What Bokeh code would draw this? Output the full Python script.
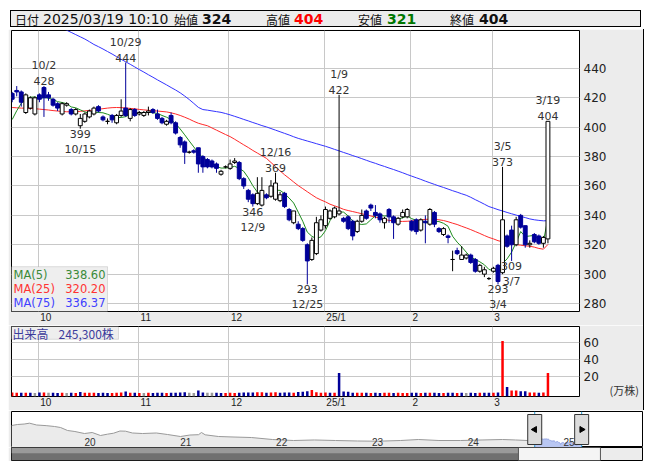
import math
from bokeh.plotting import figure
from bokeh.layouts import column
from bokeh.models import Range1d, FixedTicker, BoxAnnotation, Div, ColumnDataSource, LinearAxis
from bokeh.embed import file_html
from bokeh.resources import INLINE
from bokeh.core.properties import value

# ---------------- data ----------------
last_time = "2025/03/19 10:10"

opens = [423, 425, 424, 410, 413, 409, 422, 427, 422, 419,
         416, 409, 415, 412, 409, 401, 404, 407, 409, 414,
         407, 404, 408, 403, 408, 413, 406, 412, 409, 408,
         410, 412, 409, 406, 402, 408, 403, 393, 390, 383,
         384, 386, 380, 378, 377, 375, 368, 373, 372, 376,
         376, 365, 357, 354, 348, 347, 354, 353, 351, 350,
         355, 344, 335, 334, 331, 320, 310, 314, 330, 333,
         338, 339, 341, 338, 339, 336, 329, 336, 343, 347,
         342, 341, 335, 344, 339, 334, 339, 339, 336, 337,
         330, 336, 334, 342, 331, 327, 326, 310, 316, 310,
         311, 313, 310, 302, 300, 297, 302, 306, 301, 326,
         330, 320, 340, 333, 320, 327, 326, 321, 324]
highs = [424, 428, 425, 423, 421, 421, 423, 428, 424, 420,
         417, 417, 417, 413, 413, 409, 410, 412, 414, 415,
         408, 406, 409, 409, 419, 444, 413, 413, 411, 411,
         414, 413, 412, 407, 405, 410, 404, 394, 391, 384,
         385, 386, 381, 379, 378, 376, 371, 374, 378, 379,
         377, 366, 358, 355, 366, 366, 355, 364, 369, 356,
         356, 345, 343, 336, 332, 321, 325, 339, 340, 346,
         344, 346, 422, 339, 340, 337, 337, 344, 344, 348,
         347, 342, 339, 345, 340, 339, 344, 345, 337, 338,
         338, 340, 345, 343, 332, 332, 327, 316, 318, 319,
         314, 314, 311, 307, 305, 298, 305, 307, 373, 327,
         333, 339, 341, 333, 323, 328, 327, 326, 404]
lows = [417, 421, 414, 409, 412, 408, 417, 407, 418, 414,
        411, 408, 414, 408, 408, 399, 403, 406, 408, 410,
        404, 402, 403, 402, 407, 407, 404, 407, 408, 407,
        408, 409, 405, 402, 401, 402, 395, 386, 375, 382,
        382, 369, 369, 372, 372, 369, 367, 372, 371, 375,
        364, 358, 349, 346, 347, 346, 351, 352, 350, 349,
        345, 336, 334, 330, 322, 293, 309, 313, 329, 331,
        337, 338, 340, 335, 330, 323, 328, 335, 337, 343,
        338, 335, 331, 335, 324, 333, 338, 338, 329, 327,
        329, 321, 333, 332, 328, 326, 321, 302, 313, 310,
        310, 307, 301, 301, 298, 296, 301, 293, 300, 318,
        309, 319, 331, 318, 318, 321, 320, 318, 321]
closes = [419, 424, 417, 422, 420, 420, 419, 420, 420, 415,
          413, 416, 416, 409, 412, 406, 409, 411, 413, 411,
          405, 404, 405, 408, 411, 408, 412, 408, 410, 410,
          411, 410, 406, 403, 404, 403, 396, 388, 383, 383,
          383, 375, 373, 373, 373, 372, 370, 373, 375, 377,
          365, 360, 351, 348, 355, 357, 352, 360, 362, 354,
          346, 337, 343, 331, 323, 309, 323, 335, 337, 344,
          343, 345, 343, 336, 331, 326, 336, 340, 338, 345,
          340, 337, 338, 339, 335, 338, 342, 344, 330, 329,
          337, 335, 344, 334, 329, 331, 325, 310, 314, 313,
          313, 308, 302, 306, 303, 297, 304, 295, 337, 319,
          320, 337, 332, 320, 321, 322, 321, 325, 404]
prior_closes = [394, 392, 405, 416]

# volume in 10,000 shares (万株)
volumes = [1.6, 1.2, 1.4, 1.3, 1.2, 1.1, 1.5, 1.7, 1.2, 1.3,
           1.1, 1.2, 1.0, 1.2, 1.1, 2.3, 1.4, 1.2, 1.3, 1.1,
           1.2, 1.0, 1.1, 1.2, 1.6, 2.8, 1.4, 1.2, 1.1, 1.0,
           1.2, 1.1, 1.3, 1.2, 1.1, 1.3, 1.4, 1.6, 1.8, 1.2,
           1.1, 3.8, 1.6, 1.3, 1.2, 1.2, 1.1, 1.0, 1.2, 1.1,
           1.4, 1.5, 1.6, 1.7, 2.0, 1.8, 1.2, 1.5, 1.9, 1.3,
           1.6, 1.5, 1.4, 2.2, 2.6, 3.2, 4.6, 1.9, 1.3, 1.5,
           1.2, 1.3, 24.5, 2.8, 2.6, 1.4, 1.3, 1.2, 1.3, 1.1,
           1.2, 1.1, 1.3, 1.2, 1.1, 1.2, 1.0, 1.1, 1.2, 1.3,
           1.1, 1.2, 1.3, 1.2, 1.1, 1.0, 1.2, 1.3, 1.1, 1.2,
           1.0, 1.2, 1.1, 1.3, 1.4, 1.2, 1.3, 1.6, 62.0, 8.1,
           3.9, 3.8, 3.0, 3.0, 1.6, 1.5, 1.4, 1.5, 24.53]

ma25 = [413.4, 413.2, 413.0, 412.9, 412.8, 412.6, 412.3, 412.0, 411.7, 411.3,
        411.0, 410.7, 410.5, 410.5, 410.6, 410.8, 411.1, 411.4, 411.8, 412.2,
        412.6, 413.0, 413.3, 413.4, 413.3, 413.1, 412.8, 412.5, 412.1, 411.8,
        411.5, 411.2, 411.0, 410.7, 410.4, 409.8, 409.0, 408.0, 406.8, 405.5,
        404.0, 402.7, 401.8, 401.0, 399.5, 398.0, 396.5, 395.0, 393.6, 391.8,
        389.9, 388.0, 386.2, 384.2, 382.4, 380.6, 378.8, 376.0, 373.2, 370.3,
        367.6, 365.2, 362.7, 360.3, 358.2, 356.1, 354.0, 352.0, 350.5, 349.2,
        347.6, 346.5, 345.4, 344.1, 343.3, 342.6, 341.9, 341.1, 340.4, 339.6,
        338.9, 338.1, 337.3, 336.6, 336.2, 335.9, 335.9, 336.0, 336.2, 336.5,
        336.9, 337.3, 337.4, 337.3, 337.0, 336.5, 335.7, 334.7, 333.8, 332.6,
        331.5, 330.3, 329.0, 327.7, 326.3, 325.0, 324.0, 322.8, 322.0, 321.4,
        320.8, 320.1, 319.7, 319.3, 319.0, 318.4, 317.5, 317.0, 320.2]
ma75 = [486.0, 484.0, 482.0, 480.0, 478.0, 476.5, 475.0, 473.5, 472.0, 470.5,
        469.0, 467.5, 466.0, 464.5, 463.0, 461.5, 460.0, 458.2, 456.3, 454.8,
        453.2, 451.5, 449.8, 448.0, 446.2, 444.5, 442.8, 441.0, 439.2, 437.5,
        435.7, 434.0, 432.2, 430.5, 428.8, 427.0, 425.3, 423.4, 421.2, 418.8,
        416.2, 413.5, 412.0, 411.6, 411.1, 410.6, 410.1, 409.3, 408.4, 407.4,
        406.4, 405.3, 404.3, 403.2, 402.2, 401.1, 400.2, 399.1, 398.0, 396.9,
        395.8, 394.7, 393.5, 392.4, 391.5, 390.6, 389.7, 388.8, 387.9, 387.0,
        386.0, 384.9, 383.9, 382.8, 381.8, 380.7, 379.7, 378.6, 377.5, 376.4,
        375.4, 374.3, 373.3, 372.2, 371.2, 370.1, 369.0, 367.8, 366.7, 365.6,
        364.5, 363.3, 362.2, 361.1, 360.0, 359.0, 357.9, 356.8, 355.8, 354.7,
        353.7, 352.3, 350.7, 349.2, 347.6, 346.0, 345.0, 343.9, 343.0, 342.0,
        341.1, 340.2, 339.3, 338.5, 337.6, 337.0, 336.6, 336.3, 336.37]

month_start_idx = [6, 28, 48, 69, 88, 106]
month_labels = ["10", "11", "12", "25/1", "2", "3"]

high_marks_idx = [7, 25, 58, 72, 108, 118]
high_marks_date = ["10/2", "10/29", "12/16", "1/9", "3/5", "3/19"]
low_marks_idx = [15, 53, 65, 107, 110]
low_marks_date = ["10/15", "12/9", "12/25", "3/4", "3/7"]

price_ticks = [280, 300, 320, 340, 360, 380, 400, 420, 440]
volume_ticks = [20, 40, 60]
volume_unit_label = "(万株)"

nav_years = [2019.238, 2019.30, 2019.37, 2019.426, 2019.50, 2019.60, 2019.687, 2019.75, 2019.823, 2019.90,
             2020.0, 2020.08, 2020.167, 2020.24, 2020.303, 2020.37, 2020.428, 2020.50, 2020.605, 2020.75,
             2020.866, 2021.002, 2021.10, 2021.19, 2021.221, 2021.26, 2021.399, 2021.55, 2021.743, 2021.962,
             2022.182, 2022.40, 2022.620, 2022.85, 2023.058, 2023.30, 2023.486, 2023.70, 2023.925, 2024.15,
             2024.363, 2024.50, 2024.624, 2024.70]
nav_values = [662, 681, 690, 706, 672, 660, 644, 625, 569, 550,
              512, 531, 475, 500, 518, 559, 556, 522, 512, 522,
              494, 456, 484, 490, 531, 488, 456, 447, 437, 400,
              381, 391, 381, 372, 368, 381, 400, 381, 381, 391,
              400, 391, 381, 405]
nav_year_ticks = [2020, 2021, 2022, 2023, 2024, 2025]
nav_year_labels = ["20", "21", "22", "23", "24", "25"]
window_start_year = 2024.70
window_end_year = 2025.19
scroll_thumb = (2024.53, 2025.386)

# ---------------- styling constants ----------------
W = 635
NAVY = "#000099"
GRID = "#c8c8c8"
BG = "#ececec"
FRAME_W = 568
PRICE_FRAME_H = 282
VOL_FRAME_H = 71

n = len(closes)
idx = list(range(n))

ext = prior_closes + closes
ma5 = [sum(ext[i:i + 5]) / 5 for i in range(n)]
prev_close = [prior_closes[-1]] + closes[:-1]
vol_colors = ["#ff0000" if c > pc else (NAVY if c < pc else "#999999")
              for c, pc in zip(closes, prev_close)]

is_up = [c >= o for o, c in zip(opens, closes)]
body_top = [max(o, c) for o, c in zip(opens, closes)]
body_bot = [min(o, c) for o, c in zip(opens, closes)]
body_fill = ["white" if u else NAVY for u in is_up]
body_line = ["black" if u else NAVY for u in is_up]

xr = Range1d(-0.15, 124.95)
ppx = FRAME_W / (xr.end - xr.start)

# grid at the month start, labels start ~2px to the right of the grid line
month_ticks = [m - 0.25 for m in month_start_idx]
CHAR_W = {"/": 2.8}
def text_w(s):
    return sum(CHAR_W.get(ch, 5.56) for ch in s)
label_ticks = [round(t + (2 + text_w(l) / 2) / ppx, 2) for t, l in zip(month_ticks, month_labels)]


def style_xaxis(fig):
    ax = fig.xaxis[0]
    ax.ticker = FixedTicker(ticks=label_ticks)
    ax.major_label_overrides = {t: l for t, l in zip(label_ticks, month_labels)}
    ax.major_tick_line_color = None
    ax.minor_tick_line_color = None
    ax.major_tick_out = 0
    ax.major_tick_in = 0
    ax.minor_tick_out = 0
    ax.axis_line_color = None
    ax.major_label_text_font = "Liberation Sans"
    ax.major_label_text_font_size = "10px"
    ax.major_label_text_color = "#222222"
    ax.major_label_standoff = 0
    fig.xgrid.ticker = FixedTicker(ticks=month_ticks)
    fig.xgrid.grid_line_color = GRID


def style_yaxis(fig, ticks):
    ax = fig.yaxis[0]
    ax.ticker = FixedTicker(ticks=ticks)
    ax.major_tick_line_color = None
    ax.minor_tick_line_color = None
    ax.major_tick_out = 0
    ax.major_tick_in = 0
    ax.minor_tick_out = 0
    ax.axis_line_color = None
    ax.major_label_text_font = "DejaVu Sans"
    ax.major_label_text_font_size = "12px"
    ax.major_label_text_color = "#222222"
    ax.major_label_standoff = 4
    fig.ygrid.grid_line_color = GRID


# ---------------- header ----------------
def span(left, txt, font, size, color="#111", bold=False):
    w = "bold" if bold else "normal"
    return (f'<span style="position:absolute;left:{left}px;top:0px;font-family:\'{font}\';'
            f'font-size:{size}px;font-weight:{w};color:{color};line-height:17px;">{txt}</span>')

hdr = ('<div style="position:relative;margin-left:2px;margin-top:2px;width:631px;height:17px;'
       'border:1px solid #000;background:#ececec;white-space:nowrap;">'
       + span(4, "日付", "Noto Sans CJK JP", 12)
       + span(32, last_time, "DejaVu Sans", 14)
       + span(163, "始値", "Noto Sans CJK JP", 12)
       + span(191, str(opens[-1]), "DejaVu Sans", 14, "#111", True)
       + span(255, "高値", "Noto Sans CJK JP", 12)
       + span(283, str(highs[-1]), "DejaVu Sans", 14, "#ff0000", True)
       + span(347, "安値", "Noto Sans CJK JP", 12)
       + span(376, str(lows[-1]), "DejaVu Sans", 14, "#007700", True)
       + span(439, "終値", "Noto Sans CJK JP", 12)
       + span(468, str(closes[-1]), "DejaVu Sans", 14, "#111", True)
       + '</div>')
header = Div(text=hdr, width=W, height=21, margin=0)

# ---------------- price panel ----------------
yr = Range1d(274.6, 465.8)
p = figure(width=W, height=296, x_range=xr, y_range=yr, output_backend="svg",
           toolbar_location=None, y_axis_location="right",
           min_border_left=3, min_border_right=64, min_border_top=1, min_border_bottom=13,
           background_fill_color="white", border_fill_color=BG, outline_line_color="black")
style_xaxis(p)
style_yaxis(p, price_ticks)
ppy = PRICE_FRAME_H / (yr.end - yr.start)

src = ColumnDataSource(dict(x=idx, o=opens, h=highs, l=lows, c=closes, bt=body_top, bb=body_bot,
                            fill=body_fill, line=body_line, ma5=ma5, ma25=ma25, ma75=ma75))
p.line("x", "ma75", source=src, line_color="#3333ff", line_width=1)
p.line("x", "ma25", source=src, line_color="#ff2a2a", line_width=1)
p.line("x", "ma5", source=src, line_color="#1e8c1e", line_width=1)
p.segment("x", "l", "x", "h", source=src, line_color="line", line_width=1)
p.vbar(x="x", top="bt", bottom="bb", width=0.85, source=src,
       fill_color="fill", line_color="line", line_width=1)

FONT = value("DejaVu Sans")
hs = ColumnDataSource(dict(x=high_marks_idx, y=[highs[i] for i in high_marks_idx],
                           v=[str(highs[i]) for i in high_marks_idx], d=high_marks_date))
p.text("x", "y", text="v", source=hs, text_align="center", text_baseline="bottom", y_offset=-1,
       text_font=FONT, text_font_size="11px", text_color="#333333")
p.text("x", "y", text="d", source=hs, text_align="center", text_baseline="bottom", y_offset=-14,
       text_font=FONT, text_font_size="11px", text_color="#333333")
ls = ColumnDataSource(dict(x=low_marks_idx, y=[lows[i] for i in low_marks_idx],
                           v=[str(lows[i]) for i in low_marks_idx], d=low_marks_date))
p.text("x", "y", text="v", source=ls, text_align="center", text_baseline="top", y_offset=1,
       text_font=FONT, text_font_size="11px", text_color="#333333")
p.text("x", "y", text="d", source=ls, text_align="center", text_baseline="top", y_offset=14,
       text_font=FONT, text_font_size="11px", text_color="#333333")

# MA legend box
p.add_layout(BoxAnnotation(left=xr.start, right=xr.start + 96 / ppx,
                           bottom=yr.start, top=yr.start + 45 / ppy, level="underlay",
                           fill_color="#eeeeee", fill_alpha=1, line_color="#999999", line_width=1))
ma_names = ["MA(5)", "MA(25)", "MA(75)"]
ma_vals = [f"{ma5[-1]:.2f}", f"{ma25[-1]:.2f}", f"{ma75[-1]:.2f}"]
ma_cols = ["#3a8a3a", "#ff3333", "#4040ff"]
for k in range(3):
    off = -(37 - 14 * k)
    p.text(x=[xr.start], y=[yr.start], text=[ma_names[k]], x_offset=2, y_offset=off,
           text_baseline="middle", text_align="left", text_font=FONT,
           text_font_size="11.5px", text_color=ma_cols[k])
    p.text(x=[xr.start], y=[yr.start], text=[ma_vals[k]], x_offset=94, y_offset=off,
           text_baseline="middle", text_align="right", text_font=FONT,
           text_font_size="11.5px", text_color=ma_cols[k])

# ---------------- volume panel ----------------
vyr = Range1d(-3.1, 79)
v = figure(width=W, height=85, x_range=xr, y_range=vyr, output_backend="svg",
           toolbar_location=None, y_axis_location="right",
           min_border_left=3, min_border_right=64, min_border_top=1, min_border_bottom=13,
           background_fill_color="white", border_fill_color=BG, outline_line_color="black")
style_xaxis(v)
style_yaxis(v, volume_ticks)
vppy = VOL_FRAME_H / (vyr.end - vyr.start)
v.vbar(x=idx, top=volumes, bottom=vyr.start, width=0.55, fill_color=vol_colors,
       line_color=None)
v.add_layout(BoxAnnotation(left=xr.start, right=xr.start + 107 / ppx,
                           top=vyr.end, bottom=vyr.end - 13 / vppy, level="underlay",
                           fill_color="#eeeeee", fill_alpha=1, line_color="#999999"))
VFONT = value("Noto Sans CJK JP")
v.text(x=[xr.start], y=[vyr.end], text=["出来高"], x_offset=1, y_offset=7,
       text_baseline="middle", text_font=VFONT, text_font_size="12px", text_color="#3c3c9c")
v.text(x=[xr.start], y=[vyr.end], text=[f"{int(round(volumes[-1] * 10000)):,}株"],
       x_offset=47, y_offset=7, text_baseline="middle", text_font=VFONT,
       text_font_size="12px", text_color="#3c3c9c")
unit_tick = 5
unit_axis = LinearAxis(ticker=FixedTicker(ticks=[unit_tick]),
                       major_label_overrides={unit_tick: volume_unit_label},
                       major_tick_line_color=None, minor_tick_line_color=None,
                       major_tick_out=0, major_tick_in=0, minor_tick_out=0,
                       axis_line_color=None, major_label_standoff=8,
                       major_label_text_font="Noto Sans CJK JP",
                       major_label_text_font_size="11px", major_label_text_color="#333333")
v.add_layout(unit_axis, "right")

# ---------------- navigator ----------------
nxr = Range1d(2019.238, 2025.825)
nyr = Range1d(250, 925)
nv = figure(width=W, height=37, x_range=nxr, y_range=nyr, output_backend="svg",
            toolbar_location=None, min_border_left=3, min_border_right=1,
            min_border_top=1, min_border_bottom=0,
            background_fill_color="white", border_fill_color=BG, outline_line_color="black")
nv.axis.visible = False
nv.grid.visible = False
nv.varea(x=nav_years, y1=nyr.start, y2=nav_values, fill_color="#ebebeb")
nv.line(x=nav_years, y=nav_values, line_color="#999999", line_width=1)
win_x = [window_start_year + i * (window_end_year - window_start_year) / (n - 1) for i in idx]
nv.varea(x=win_x, y1=nyr.start, y2=closes, fill_color="#b9c7f3")
nv.line(x=win_x, y=closes, line_color="#8fa0e0", line_width=1)
nv.text(x=nav_year_ticks, y=[nyr.start] * len(nav_year_ticks), text=nav_year_labels,
        text_align="left", text_baseline="bottom", y_offset=-2,
        text_font=value("Liberation Sans"), text_font_size="10px", text_color="#333333")
nv.segment(x0=[window_start_year, window_end_year], y0=nyr.start,
           x1=[window_start_year, window_end_year], y1=nyr.end, line_color="#2a9fd6", line_width=1)
mid = (nyr.start + nyr.end) / 2
nv.rect(x=[window_start_year, window_end_year], y=mid, width=14, height=30,
        width_units="screen", height_units="screen",
        fill_color="#dcdcdc", line_color="#333333", line_width=1)
nv.scatter(x=[window_start_year, window_end_year], y=mid, marker="triangle",
           angle=[math.pi / 2, -math.pi / 2], size=6, fill_color="black", line_color="black")

# scrollbar
sb = figure(width=W, height=14, x_range=nxr, y_range=Range1d(0, 1), output_backend="svg",
            toolbar_location=None, min_border_left=3, min_border_right=1,
            min_border_top=0, min_border_bottom=1,
            background_fill_color=BG, border_fill_color=BG, outline_line_color="black")
sb.axis.visible = False
sb.grid.visible = False
sb.quad(left=nxr.start, right=scroll_thumb[0], bottom=0, top=1, fill_color="#707070", line_color=None)
sb.quad(left=nxr.start, right=scroll_thumb[0], bottom=0.55, top=1, fill_color="#9a9a9a", line_color=None)
sb.quad(left=scroll_thumb[0], right=scroll_thumb[1], bottom=0, top=1,
        fill_color="#f4f4f4", line_color="#555555")

charts = column(p, v, spacing=0, styles={"border-right": "1px solid #000000"})
layout = column(header, charts, column(nv, sb, spacing=0),
                spacing=0, margin=(8, 0, 0, 8))
open("out.html", "w").write(file_html(layout, INLINE))
